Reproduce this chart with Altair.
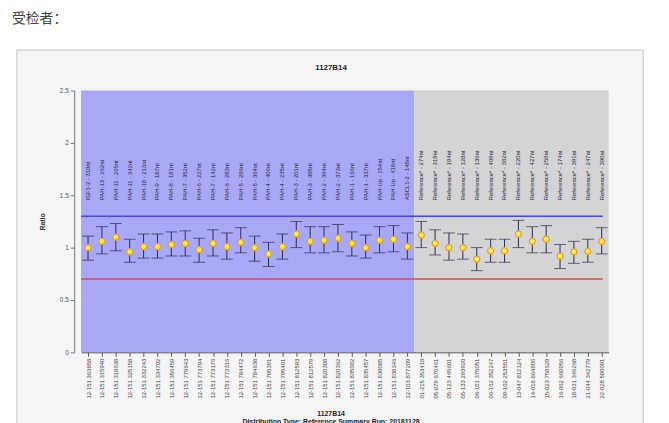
import altair as alt
import pandas as pd

top_labels = [
    "IGF1-2 - 310nt", "PAH-13 - 262nt", "PAH-11 - 265nt", "PAH-11 - 342nt",
    "PAH-10 - 213nt", "PAH-9 - 187nt", "PAH-8 - 181nt", "PAH-7 - 352nt",
    "PAH-6 - 227nt", "PAH-7 - 142nt", "PAH-6 - 283nt", "PAH-5 - 296nt",
    "PAH-5 - 364nt", "PAH-4 - 406nt", "PAH-4 - 235nt", "PAH-3 - 201nt",
    "PAH-3 - 385nt", "PAH-2 - 364nt", "PAH-2 - 373nt", "PAH-1 - 166nt",
    "PAH-1 - 337nt", "PAH-Up - 154nt", "PAH-Up - 418nt", "ASCL1-2 - 148nt",
    "Reference* - 274nt", "Reference* - 319nt", "Reference* - 194nt",
    "Reference* - 128nt", "Reference* - 136nt", "Reference* - 409nt",
    "Reference* - 382nt", "Reference* - 220nt", "Reference* - 427nt",
    "Reference* - 258nt", "Reference* - 174nt", "Reference* - 391nt",
    "Reference* - 247nt", "Reference* - 390nt",
]

bottom_labels = [
    "12-151 363858", "12-151 315940", "12-151 318638", "12-151 325158",
    "12-151 332243", "12-151 334702", "12-151 356459", "12-151 779643",
    "12-151 773794", "12-151 773176", "12-151 773316", "12-151 784472",
    "12-151 784638", "12-151 795391", "12-151 795401", "12-151 812593",
    "12-151 812579", "12-151 820308", "12-151 820362", "12-151 835002",
    "12-151 835457", "12-151 838085", "12-151 838346", "12-103 877209",
    "01-215 353418", "05-079 670461", "05-123 445601", "05-133 293920",
    "06-101 375051", "06-162 352247", "09-102 253551", "13-047 812124",
    "14-018 864806", "15-023 758629", "16-062 660956", "18-031 346268",
    "21-044 342779", "22-028 580091",
]

ratio = [1.00, 1.06, 1.10, 0.96, 1.01, 1.01, 1.03, 1.04, 0.98, 1.04, 1.01, 1.05,
         1.00, 0.94, 1.01, 1.13, 1.06, 1.07, 1.09, 1.04, 1.00, 1.07, 1.08, 1.01,
         1.12, 1.04, 1.00, 1.00, 0.89, 0.97, 0.97, 1.13, 1.06, 1.08, 0.92, 0.96,
         0.965, 1.06]
low = [0.88, 0.94, 0.97, 0.86, 0.90, 0.90, 0.92, 0.92, 0.86, 0.92, 0.89, 0.95,
       0.87, 0.82, 0.89, 1.00, 0.95, 0.95, 0.96, 0.92, 0.90, 0.95, 0.96, 0.89,
       1.00, 0.93, 0.88, 0.89, 0.78, 0.86, 0.86, 1.00, 0.95, 0.95, 0.80, 0.85,
       0.86, 0.94]
high = [1.11, 1.20, 1.23, 1.08, 1.13, 1.13, 1.15, 1.16, 1.09, 1.17, 1.14, 1.19,
        1.11, 1.05, 1.13, 1.25, 1.20, 1.20, 1.22, 1.15, 1.12, 1.20, 1.21, 1.14,
        1.25, 1.17, 1.14, 1.13, 1.00, 1.08, 1.08, 1.26, 1.20, 1.21, 1.03, 1.06,
        1.08, 1.19]

n_sample = 24  # probes in the sample (blue) group; rest are references
upper_threshold = 1.3
lower_threshold = 0.7
y_ticks = [0, 0.5, 1, 1.5, 2, 2.5]

n = len(ratio)
df = pd.DataFrame({
    "idx": list(range(n)),
    "ratio": ratio,
    "low": low,
    "high": high,
    "top": top_labels,
})

regions = pd.DataFrame({
    "start": [-0.5, n_sample - 0.5],
    "end": [n_sample - 0.5, n - 0.5],
    "group": ["sample", "reference"],
})

thresholds = pd.DataFrame({"v": [upper_threshold, lower_threshold], "kind": ["upper", "lower"]})
dummy = pd.DataFrame({"a": [0]})

FONT = "Liberation Sans"
label_expr = "[" + ",".join("'" + s + "'" for s in bottom_labels) + "][datum.value]"

xscale = alt.Scale(domain=[-0.5, n - 0.5], nice=False, zero=False)
yscale = alt.Scale(domain=[0, 2.5], nice=False)

x_axis = alt.Axis(values=list(range(n)), labelExpr=label_expr, labelAngle=270,
                  labelFontSize=6, labelFont=FONT, labelColor="#444444",
                  tickSize=4, tickColor="#555555", domainColor="#555555",
                  title=None, grid=False, labelPadding=2, labelOverlap=False,
                  labelBound=False, labelFlush=False, zindex=2)
y_axis = alt.Axis(values=y_ticks, format="~g", labelFontSize=6.5, labelFont=FONT,
                  labelColor="#555555", tickSize=4, tickColor="#777777",
                  domainColor="#777777", grid=False, title="Ratio",
                  titleFontSize=7, titleFont=FONT, titleFontWeight="bold",
                  titleColor="#333333", titlePadding=14, offset=7, zindex=2)


def X(field):
    return alt.X(field, type="quantitative", scale=xscale, axis=x_axis)


def Y(field):
    return alt.Y(field, type="quantitative", scale=yscale, axis=y_axis)


frame = alt.Chart(dummy).mark_rect(fill="#f5f5f5", stroke="#c4c4c4", strokeWidth=1).encode(
    x=alt.value(-65), x2=alt.value(569), y=alt.value(-41), y2=alt.value(360)
)

bg = alt.Chart(regions).mark_rect().encode(
    x=X("start"),
    x2="end:Q",
    y=alt.value(0), y2=alt.value(265),
    color=alt.Color("group:N", scale=alt.Scale(domain=["sample", "reference"],
                                               range=["#a8a8f6", "#d4d4d4"]), legend=None),
)

lines = alt.Chart(thresholds).mark_rule(strokeWidth=1.5).encode(
    y=Y("v"),
    x=alt.value(0), x2=alt.value(528),
    color=alt.Color("kind:N", scale=alt.Scale(domain=["upper", "lower"],
                                              range=["#4a4ad0", "#e04848"]), legend=None),
)

err = alt.Chart(df).mark_rule(color="#2e2e4e", strokeWidth=1).encode(
    x=X("idx"), y=Y("low"), y2="high:Q"
)
cap_hi = alt.Chart(df).mark_tick(color="#2e2e4e", orient="horizontal", size=12, thickness=1).encode(
    x=X("idx"), y=Y("high")
)
cap_lo = alt.Chart(df).mark_tick(color="#2e2e4e", orient="horizontal", size=12, thickness=1).encode(
    x=X("idx"), y=Y("low")
)
pts = alt.Chart(df).mark_point(filled=True, shape="circle", size=38, fill="#f6ec4c",
                               stroke="#e0a040", strokeWidth=1.3, opacity=1).encode(
    x=X("idx"), y=Y("ratio")
)

tops = alt.Chart(df).mark_text(angle=270, align="left", baseline="middle", fontSize=6,
                               font=FONT, color="#2a2a44").encode(
    x=X("idx"), y=alt.value(111), text="top:N"
)

title_top = alt.Chart(dummy).mark_text(text="1127B14", fontSize=8, fontWeight="bold",
                                       font=FONT, color="#222222").encode(
    x=alt.value(253), y=alt.value(-23)
)
title_bottom = alt.Chart(dummy).mark_text(text="1127B14", fontSize=7, fontWeight="bold",
                                          font=FONT, color="#222222").encode(
    x=alt.value(253), y=alt.value(327)
)
subtitle_bottom = alt.Chart(dummy).mark_text(
    text="Distribution Type: Reference Summary Run: 20181128", fontSize=7,
    fontWeight="bold", font=FONT, color="#222222", baseline="top").encode(
    x=alt.value(253), y=alt.value(332)
)
header = alt.Chart(dummy).mark_text(text="受检者：", fontSize=14, align="left",
                                    baseline="middle", font="Noto Sans CJK SC",
                                    color="#444444").encode(
    x=alt.value(-70), y=alt.value(-72)
)

chart = alt.layer(
    frame, bg, lines, err, cap_hi, cap_lo, pts, tops,
    title_top, title_bottom, subtitle_bottom, header
).resolve_scale(color="independent").properties(
    width=534, height=265,
    autosize=alt.AutoSizeParams(type="none"),
    padding={"left": 74, "top": 81, "right": 53, "bottom": 69},
    background="white",
).configure_view(stroke=None).configure_axisX(labelOverlap=False)

chart.save("out.html", embed_options={"renderer": "svg", "actions": False})
